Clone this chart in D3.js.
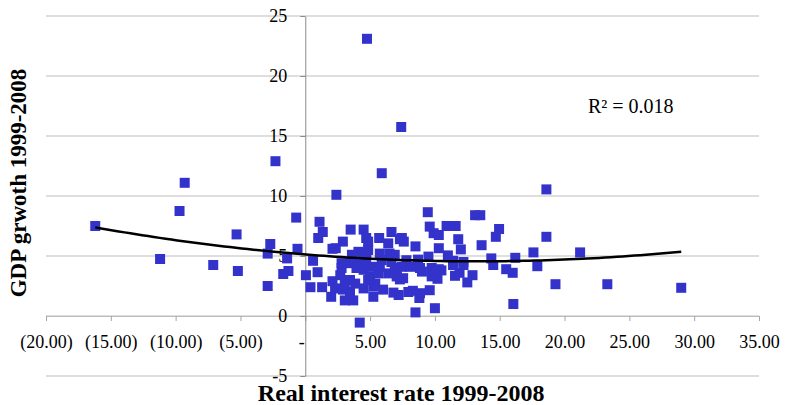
<!DOCTYPE html>
<html lang="en">
<head>
<meta charset="UTF-8">
<title>Real interest rate vs GDP growth</title>
<script src="https://cdn.jsdelivr.net/npm/d3@7"></script>
<style>
  body{ margin:0; padding:0; background:#fff; }
  svg text{ font-family:"Liberation Serif","Times New Roman",serif; fill:#000; }
  .grid line{ stroke:#bdbdbd; stroke-width:1; }
  .xAxis path{ stroke:#bdbdbd; }
  .xAxis line{ stroke:#a6a6a6; }
  .yAxis path, .yAxis line{ stroke:#8c8c8c; }
  .xAxis text, .yAxis text{ font-size:18px; }
  .dot{ fill:#3333cc; }
  .trend{ fill:none; stroke:#000; stroke-width:2.5; }
  .xTitle{ font-weight:bold; font-size:24px; }
  .yTitle{ font-weight:bold; font-size:23px; }
  .r2{ font-size:20px; }
</style>
</head>
<body>
<div id="chart"></div>
<script>
// real interest rate (x) and gdp growth (y), one entry per country
let rate = [
  -16.2, -11.2, -9.7, -9.3, -7.1, -5.3, -5.2, -2.9, -2.9, -2.7,
  -2.3, -1.7, -1.3, -1.4, -0.7, -0.6, 0.05, 0.4, 0.6, 0.95,
  1.1, 1.35, 1.0, 2.4, 1.3, 2.1, 2.35, 2.9, 3.5, 2.1,
  2.0, 2.3, 2.9, 3.05, 3.7, 4.2, 2.8, 2.7, 3.45, 3.85,
  3.05, 3.45, 4.76, 7.4, 5.9, 4.5, 6.65, 4.7, 4.85, 5.7,
  7.3, 7.6, 6.4, 3.6, 4.1, 4.7, 4.5, 5.75, 5.9, 6.5,
  6.65, 6.9, 2.8, 3.45, 4.2, 4.7, 4.85, 4.5, 5.0, 5.0,
  4.5, 5.25, 5.25, 3.95, 4.85, 5.4, 5.65, 6.4, 5.75, 6.9,
  7.05, 7.3, 7.05, 7.55, 6.0, 6.8, 7.2, 7.8, 7.95, 7.45,
  7.45, 8.1, 8.85, 9.0, 8.5, 8.7, 9.5, 9.45, 9.6, 9.9,
  10.3, 10.9, 11.6, 13.1, 13.5, 14.95, 14.7, 11.8, 18.6, 18.6,
  10.3, 12.0, 13.6, 17.6, 21.2, 11.0, 11.4, 12.2, 14.35, 14.5,
  16.2, 17.9, 15.5, 16.0, 12.9, 12.5, 11.55, 11.9, 11.4, 12.2,
  10.3, 10.5, 9.75, 10.2, 9.75, 9.6, 8.85, 8.3, 8.8, 8.5,
  10.0, 16.05, 19.3, 23.3, 29.0
];
let growth = [
  7.5, 4.75, 8.75, 11.1, 4.25, 6.8, 3.75, 2.5, 5.2, 6.0,
  12.9, 3.5, 3.75, 4.8, 8.2, 5.6, 3.4, 2.4, 4.6, 3.65,
  7.85, 7.0, 6.5, 10.1, 2.4, 5.6, 5.65, 6.2, 7.2, 2.9,
  1.6, 2.3, 2.2, 1.3, 1.3, -0.55, 4.0, 3.4, 3.0, 2.7,
  2.6, 2.0, 23.1, 15.75, 11.9, 7.2, 7.0, 6.5, 6.2, 6.5,
  6.4, 6.2, 6.05, 5.1, 5.35, 5.2, 4.65, 5.2, 4.65, 5.2,
  4.5, 5.1, 4.4, 4.4, 4.5, 4.8, 5.5, 3.85, 4.1, 3.3,
  2.3, 2.45, 1.6, 4.0, 3.0, 2.7, 3.55, 3.55, 4.1, 4.0,
  3.3, 3.05, 3.85, 3.15, 2.2, 1.95, 1.75, 4.65, 2.0, 4.1,
  6.5, 4.1, 4.0, 3.7, 5.8, 4.7, 4.95, 8.65, 7.45, 6.9,
  6.75, 7.5, 7.5, 8.4, 8.4, 7.25, 6.6, 6.4, 10.55, 6.6,
  5.65, 5.55, 5.9, 5.3, 5.3, 5.05, 4.6, 4.5, 4.8, 4.25,
  4.85, 4.15, 3.9, 3.6, 3.4, 2.8, 3.35, 3.6, 4.25, 4.25,
  3.9, 3.8, 3.3, 3.1, 4.0, 2.15, 1.9, 2.1, 1.5, 0.3,
  0.65, 1.0, 2.65, 2.65, 2.35
];
let xTicks = [-20, -15, -10, -5, 0, 5, 10, 15, 20, 25, 30, 35];
let yTicks = [-5, 0, 5, 10, 15, 20, 25];
let xTitle = "Real interest rate 1999-2008";
let yTitle = "GDP grwoth 1999-2008";
let r2Label = "R² = 0.018";

let data = rate.map(function(r, i){ return {x: r, y: growth[i]}; });

let W = 785, H = 405;
let margin = {top: 16, right: 26, bottom: 29, left: 46},
    width = W - margin.left - margin.right,
    height = H - margin.top - margin.bottom;

let svg = d3.select("#chart").append("svg")
    .attr("width", W).attr("height", H);

let g = svg.append("g")
    .attr("transform", "translate(" + margin.left + "," + margin.top + ")");

let x = d3.scaleLinear().domain([-20, 35]).range([0, width]);
let y = d3.scaleLinear().domain([-5, 25]).range([height, 0]);

// horizontal gridlines
g.append("g").attr("class", "grid")
  .selectAll("line").data(yTicks).enter().append("line")
    .attr("x1", 0).attr("x2", width)
    .attr("y1", function(d){ return y(d); })
    .attr("y2", function(d){ return y(d); });

let fmt2 = d3.format(".2f");
function xFormat(d){
  if (d < 0) return "(" + fmt2(-d) + ")";
  if (d === 0) return "-";
  return fmt2(d);
}

let xAxis = g.append("g").attr("class", "xAxis")
    .attr("transform", "translate(0," + y(0) + ")")
    .call(d3.axisBottom(x).tickValues(xTicks).tickSize(5).tickSizeOuter(0)
      .tickPadding(14).tickFormat(xFormat));
xAxis.selectAll("text").filter(function(d){ return d === 0; }).attr("dx", "-4");

g.append("g").attr("class", "yAxis")
    .attr("transform", "translate(" + x(0) + ",0)")
    .call(d3.axisLeft(y).tickValues(yTicks).tickSize(5).tickSizeOuter(0)
      .tickPadding(13).tickFormat(function(d){ return String(d); }));

// points
let s = 10;
g.append("g").selectAll("rect").data(data).enter().append("rect")
    .attr("class", "dot")
    .attr("x", function(d){ return x(d.x) - s/2; })
    .attr("y", function(d){ return y(d.y) - s/2; })
    .attr("width", s).attr("height", s);

// 2nd order polynomial trendline, least squares on the points
function polyFit(pts){
  let S = [0,0,0,0,0], T = [0,0,0];
  pts.forEach(function(p){
    let v = 1;
    for (let k = 0; k < 5; k++){ S[k] += v; if (k < 3) T[k] += v * p.y; v *= p.x; }
  });
  let A = [[S[0],S[1],S[2],T[0]],[S[1],S[2],S[3],T[1]],[S[2],S[3],S[4],T[2]]];
  for (let i = 0; i < 3; i++){
    for (let j = i + 1; j < 3; j++){
      let f = A[j][i] / A[i][i];
      for (let k = i; k < 4; k++) A[j][k] -= f * A[i][k];
    }
  }
  let c = [0,0,0];
  for (let i = 2; i >= 0; i--){
    let sum = A[i][3];
    for (let k = i + 1; k < 3; k++) sum -= A[i][k] * c[k];
    c[i] = sum / A[i][i];
  }
  return c;
}
let coef = polyFit(data);
let xExt = d3.extent(data, function(d){ return d.x; });
let trend = d3.range(0, 101).map(function(i){
  let xv = xExt[0] + (xExt[1] - xExt[0]) * i / 100;
  return {x: xv, y: coef[0] + coef[1]*xv + coef[2]*xv*xv};
});
g.append("path").datum(trend).attr("class", "trend")
  .attr("d", d3.line().x(function(d){ return x(d.x); }).y(function(d){ return y(d.y); }));

g.append("text").attr("class", "r2")
    .attr("x", x(21.8)).attr("y", y(16.9))
    .text(r2Label);

svg.append("text").attr("class", "xTitle")
    .attr("x", margin.left + x(7.4)).attr("y", 401)
    .style("text-anchor", "middle")
    .text(xTitle);

svg.append("text").attr("class", "yTitle")
    .attr("transform", "translate(26," + 183 + ") rotate(-90)")
    .style("text-anchor", "middle")
    .text(yTitle);
</script>
</body>
</html>
